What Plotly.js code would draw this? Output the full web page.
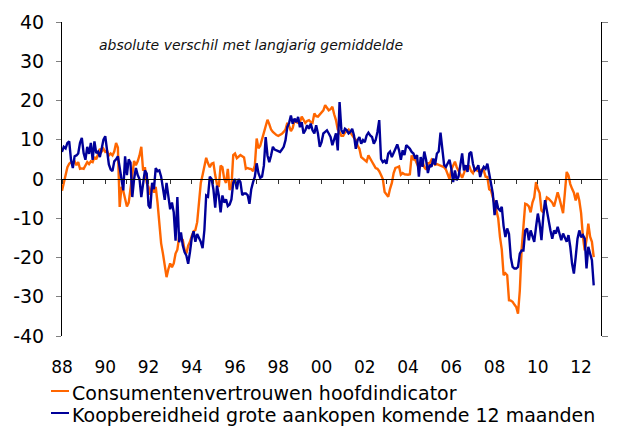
<!DOCTYPE html>
<html>
<head>
<meta charset="utf-8">
<script src="https://cdn.plot.ly/plotly-3.0.1.min.js"></script>
<style>html,body{margin:0;padding:0;background:#fff;}#chart{width:617px;height:426px;}</style>
</head>
<body>
<div id="chart"></div>
<script>
const startYear = 1988;
const seriesNames = ["Consumentenvertrouwen hoofdindicator", "Koopbereidheid grote aankopen komende 12 maanden"];
const seriesColors = ["#FF6600", "#000099"];
const subtitle = "absolute verschil met langjarig gemiddelde";

// monthly values, Jan 1988 - Aug 2012
const consumentenvertrouwen = [
  -3, -1, 1.5, 3, 3.9, 4.3, 4, 4.5, 3.5, 4.3, 2.6, 2.7,
  2.6, 3.5, 4.3, 3.8, 4.5, 4.3, 5.6, 5, 6.5, 7.7, 7, 7.7,
  6.9, 7.2, 6, 6.5, 6, 7, 9.2, 8, -7.1, -2, -3, -5,
  -7, -6, -2, 1, 4.6, 3.5, 4.5, 6, 8.2, 2.1, 3, -1,
  -2, -4, -1.5, -3.5, -2, -6, -12, -16.4, -19, -22, -25, -23,
  -21.5, -22.5, -21.5, -19, -18, -14.7, -15, -15.5, -18, -19, -17, -16,
  -14.5, -13.3, -13, -11, -6, -1, 1, 3, 5.4, 4, 3, 3.9,
  4.1, 1, -1.4, -2, 3.4, 3, 0, -1, 2.6, -2.8, -2, 6.1,
  6.5, 5.3, 5.7, 6.1, 5.8, 5.5, 2.6, 2.8, 2.6, 2.5, 2, 3.5,
  10.3, 7.8, 8.5, 10, 11.5, 13.2, 15.1, 14, 12.6, 12, 11.5, 11.2,
  11, 11.2, 11.5, 12, 12.6, 14.3, 13.5, 12.2, 13, 15, 14.5, 14.3,
  14.5, 15.9, 15.2, 14.3, 14.8, 15, 14.5, 14.3, 16.7, 16, 15.9, 16.5,
  17.1, 17.5, 18.8, 18, 17.5, 17.8, 18.4, 16.5, 15, 12.6, 12, 11,
  11, 11.8, 12.2, 12.6, 11.8, 11, 10.5, 10, 8.5, 7.7, 5.6, 5.2,
  4.9, 4.4, 6, 5, 4.4, 3.6, 2.8, 2.6, 2, 1, 0, -3.3,
  -3.8, -4.5, -2.5, -1, 1.5, 2.8, 3, 3.2, 1.1, 1.5, 1.2, 1.1,
  1.1, 1.2, 6, 5, 4.9, 3.8, 2.8, 3.5, 4.4, 3, 2.4, 4,
  4, 4.9, 4.2, 3.6, 3.8, 3.6, 3.4, 3.2, 3, 2.4, 1, 0,
  2.4, 3.5, 4.4, 3, 2, 1, 0.3, 1.5, 2.8, 3, 3.2, 2,
  1.5, 2.8, 2.2, 2, 2.2, 2.4, 2.2, 0.6, 0.5, -2.6, -2.9, -5,
  -6.3, -8, -10, -14.8, -18, -24.5, -24, -24.5, -30.9, -31, -31.3, -32,
  -32.6, -34.3, -28.4, -18, -11.4, -6.3, -6.5, -7, -8.5, -6, -4.7, -0.8,
  -2.5, -3.6, -8, -8.5, -6.5, -4.7, -5, -5.5, -6, -7, -5, -3.4,
  -5, -7, -8.7, -3.5, 1.8, 0.9, -1.3, -2.5, -3.5, -5.5, -3.5, -5.5,
  -8.7, -14.7, -18.2, -15.5, -11.4, -14.7, -16, -19.9
];

const koopbereidheid = [
  6.9, 8.2, 7.8, 9.2, 9.6, 4.9, 2.8, 5.8, 6, 6.5, 9.2, 10.5,
  6.6, 4.9, 8.2, 6.4, 9.2, 4.9, 9.6, 6.6, 7, 5.6, 7.7, 10,
  10.9, 7.5, 3.7, 2.4, 2, 4.5, 5, 5.8, 2.2, 0, -2.9, 5.8,
  1, 5, 4.2, -4.6, 0, 2.8, 1, 0, -4.6, -1.5, 2.2, 1.4,
  -6.7, -7.5, -1, -2.6, 2.8, 2, 2.2, 0.6, -2.6, -5.3, -1, -4.6,
  -7.7, -6, -8.5, -15.7, -4.6, -16.1, -13.6, -16.9, -18.6, -19.5, -21.6, -18.6,
  -15, -13.3, -16, -14, -15, -16, -17.6, -13, -4.2, -4.5, 0.6, 0,
  -2.6, -7.3, -1.7, -4.2, -8.5, -4.2, -6, -5.2, -6.9, -6.5, -5.2, -1,
  0, -2.6, 0, -0.8, -4.1, -3.7, -3.7, -4.1, -6.3, -2.6, -0.8, 0.6,
  4, 1.5, 0.3, 0.6, 3.4, 10.7, 6, 4.3, 6, 8.2, 7.5, 7.3,
  7, 6.9, 7.5, 8.2, 9.9, 13.2, 14.3, 16.2, 14.1, 15.4, 14.5, 15.8,
  13.2, 14.5, 11.6, 12.4, 13.7, 12.8, 14.1, 12.4, 11.6, 13.7, 11.6, 8.2,
  9.4, 11.6, 12, 12.4, 11.6, 10.7, 8.6, 9.9, 11.6, 7.3, 19.6, 12.5,
  11.6, 12.8, 12.4, 11.6, 12, 12.8, 11.1, 7.7, 9.9, 10.7, 9, 9.9,
  9.4, 11.1, 11.8, 11.1, 10.7, 9, 9.9, 12, 15, 5.1, 4.3, 4.7,
  3.9, 6.5, 7, 5.6, 6.5, 7.7, 8.8, 7.3, 4.9, 7.3, 6.1, 8.6,
  8.2, 7.7, 6.9, 6.5, 5.2, 6.1, 0.6, 5.6, 3.1, 7, 4.9, 1.5,
  3.6, 3.1, 5.2, 3.6, 6.5, 7, 11.8, 8.2, 3.6, 3.1, 4, 4.9,
  2.6, -0.8, 2.2, -0.3, 0.6, 3.1, 6.5, 2.2, 3.5, 1.8, 6.5, 6.9,
  3.9, 2.2, 2.6, 3.5, 0.5, 2.2, 3.1, 2.6, 3.9, 1.4, -1.2, -3.7,
  -9.2, -5.4, -7.5, -8, -7.1, -12, -14.8, -12.6, -14, -20, -22.4, -22.8,
  -22.8, -22.4, -19, -18.2, -18.2, -13.1, -12.6, -15.6, -13.1, -14.8, -16, -12.2,
  -8.8, -11.4, -15.6, -9.7, -5.4, -8, -11, -13.1, -15.2, -13.1, -13.9, -12.2,
  -13.9, -15.6, -13.9, -15.2, -16, -14.3, -17.3, -21.6, -24.1, -19.9, -15.2, -13.1,
  -14.8, -14.3, -15.2, -22.8, -17.3, -19, -20.7, -27.1
];

const xTickVals = [1988, 1990, 1992, 1994, 1996, 1998, 2000, 2002, 2004, 2006, 2008, 2010, 2012];
const xTickLabels = ["88", "90", "92", "94", "96", "98", "00", "02", "04", "06", "08", "10", "12"];
const yTickVals = [-40, -30, -20, -10, 0, 10, 20, 30, 40];
const yTickLabels = ["-40", "-30", "-20", "-10", "0", "10", "20", "30", "40"];

const monthsO = consumentenvertrouwen.map((_, i) => startYear + i / 12);
const monthsB = koopbereidheid.map((_, i) => startYear + i / 12);

const FONT = "DejaVu Sans, Verdana, sans-serif";
const W = 617, H = 426, ML = 62, MR = 15.5, MT = 22, MB = 90;
const PW = W - ML - MR, PH = H - MT - MB;
const px = x => (x - ML) / PW;          // pixel -> paper x
const py = y => (H - MB - y) / PH;      // pixel -> paper y
const xRange = [1988, 2012.92];

const traces = [
  {x: monthsO, y: consumentenvertrouwen, name: seriesNames[0], type: "scatter", mode: "lines",
   line: {color: seriesColors[0], width: 2.4}, xaxis: "x", yaxis: "y", hoverinfo: "skip"},
  {x: monthsB, y: koopbereidheid, name: seriesNames[1], type: "scatter", mode: "lines",
   line: {color: seriesColors[1], width: 2.4}, xaxis: "x2", yaxis: "y2", hoverinfo: "skip"}
];

const layout = {
  width: W, height: H,
  margin: {l: ML, r: MR, t: MT, b: MB, pad: 0},
  paper_bgcolor: "#fff", plot_bgcolor: "#fff",
  showlegend: false,
  font: {family: FONT, color: "#000", size: 17},
  xaxis: {range: xRange, tickmode: "array", tickvals: xTickVals, ticktext: xTickLabels,
          ticks: "", showline: false, showgrid: false, zeroline: false,
          tickfont: {family: FONT, size: 17, color: "#000"}, ticklabelstandoff: 19, fixedrange: true},
  xaxis2: {range: xRange, overlaying: "x", anchor: "free", position: 0.5, side: "bottom",
           tickmode: "linear", tick0: 1988, dtick: 1, ticks: "outside", ticklen: 4, tickwidth: 1,
           tickcolor: "#333", showticklabels: false, showline: true, linecolor: "#000", linewidth: 1,
           showgrid: false, zeroline: false, fixedrange: true},
  yaxis: {range: [-40, 40], tickmode: "array", tickvals: yTickVals, ticktext: yTickLabels,
          ticks: "outside", ticklen: 5, tickwidth: 1, tickcolor: "#808080",
          showline: true, linecolor: "#000", linewidth: 1, showgrid: false, zeroline: false,
          tickfont: {family: FONT, size: 19, color: "#000"}, ticklabelstandoff: 8, fixedrange: true},
  yaxis2: {range: [-40, 40], overlaying: "y", side: "right", anchor: "x",
           tickmode: "array", tickvals: yTickVals, ticks: "outside", ticklen: 6, tickwidth: 1,
           tickcolor: "#808080", showticklabels: false, showline: true, linecolor: "#000", linewidth: 1,
           showgrid: false, zeroline: false, fixedrange: true},
  annotations: [
    {xref: "paper", yref: "paper", x: px(97), y: py(45), xanchor: "left", yanchor: "middle",
     text: subtitle, showarrow: false, font: {family: FONT, size: 14, color: "#111", style: "italic"}},
    {xref: "paper", yref: "paper", x: px(70), y: py(393), xanchor: "left", yanchor: "middle",
     text: seriesNames[0], showarrow: false, font: {family: FONT, size: 19, color: "#000"}},
    {xref: "paper", yref: "paper", x: px(70), y: py(414.5), xanchor: "left", yanchor: "middle",
     text: seriesNames[1], showarrow: false, font: {family: FONT, size: 19, color: "#000"}}
  ],
  shapes: [
    {type: "line", xref: "paper", yref: "paper", x0: px(51), x1: px(69), y0: py(391), y1: py(391),
     line: {color: seriesColors[0], width: 2}},
    {type: "line", xref: "paper", yref: "paper", x0: px(51), x1: px(69), y0: py(413), y1: py(413),
     line: {color: seriesColors[1], width: 2}}
  ]
};

Plotly.newPlot("chart", traces, layout, {staticPlot: true, displayModeBar: false});
</script>
</body>
</html>
